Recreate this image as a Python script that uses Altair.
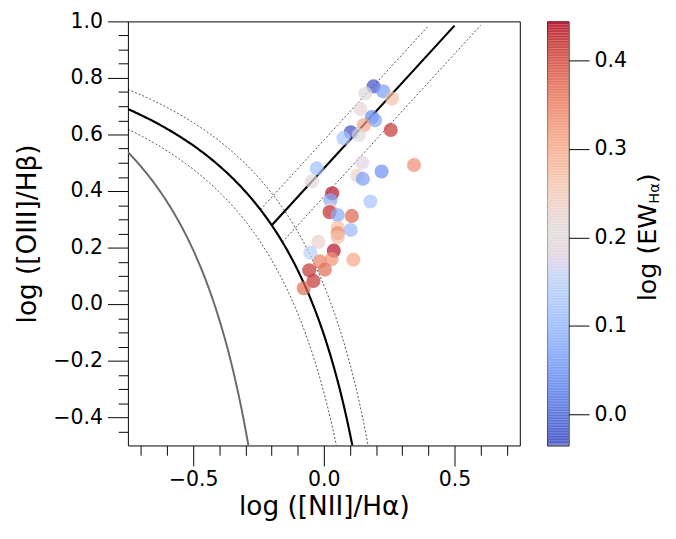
import altair as alt
import numpy as np
import pandas as pd

# ---------------- data ----------------
nii = [0.190, 0.227, 0.159, 0.261, 0.140, 0.184, 0.196, 0.153, 0.256, 0.103,
       0.134, 0.075, -0.027, -0.046, 0.147, 0.221, 0.345, 0.128, 0.149, 0.032,
       0.025, 0.178, 0.024, 0.022, 0.053, 0.107, 0.053, 0.053, 0.053, 0.103,
       -0.021, -0.052, 0.038, -0.015, 0.029, 0.113, -0.056, 0.004, -0.040, -0.077]
oiii = [0.770, 0.753, 0.745, 0.727, 0.690, 0.662, 0.650, 0.633, 0.616, 0.608,
        0.598, 0.587, 0.480, 0.434, 0.501, 0.469, 0.492, 0.455, 0.443, 0.392,
        0.367, 0.363, 0.335, 0.325, 0.315, 0.312, 0.271, 0.251, 0.237, 0.262,
        0.220, 0.182, 0.189, 0.151, 0.159, 0.157, 0.120, 0.122, 0.082, 0.056]
ew = [-0.03, 0.06, 0.20, 0.27, 0.22, 0.03, 0.07, 0.31, 0.42, -0.03,
      0.20, 0.12, 0.11, 0.19, 0.18, 0.04, 0.34, 0.23, 0.06, 0.44,
      0.08, 0.12, 0.23, 0.42, 0.08, 0.38, 0.27, 0.34, 0.27, 0.10,
      0.23, 0.15, 0.44, 0.35, 0.33, 0.31, 0.42, 0.37, 0.42, 0.37]

x_major = [-0.5, 0.0, 0.5]
x_minor = [-0.7, -0.6, -0.4, -0.3, -0.2, -0.1, 0.1, 0.2, 0.3, 0.4, 0.6, 0.7]
y_major = [-0.4, -0.2, 0.0, 0.2, 0.4, 0.6, 0.8, 1.0]
y_minor = [-0.45, -0.35, -0.3, -0.25, -0.15, -0.1, -0.05, 0.05, 0.1, 0.15,
           0.25, 0.3, 0.35, 0.45, 0.5, 0.55, 0.65, 0.7, 0.75, 0.85, 0.9, 0.95]
cb_ticks = [0.0, 0.1, 0.2, 0.3, 0.4]

x_title = "log ([NII]/Hα)"
y_title = "log ([OIII]/Hβ)"
cb_title_parts = ["log (EW", "Hα", ")"]

CMAP = ['#3b4cc0', '#5977e3', '#7b9ff9', '#9ebeff', '#c0d4f5', '#dddcdc',
        '#f2cbb7', '#f7ac8e', '#ee8468', '#d65244', '#b40426']
EW_MIN, EW_MAX = -0.035, 0.444
X_DOM = [-0.75, 0.75]
Y_DOM = [-0.5, 1.0]

# ---------------- demarcation lines (analytic curves) ----------------
def hyper(a, x0, c, xs):
    return a / (xs - x0) + c

def x_bottom(a, x0, c, ymin=Y_DOM[0]):
    return x0 + a / (ymin - c)

def intersect(slope, icpt, a=0.61, x0=0.47, c=1.19):
    k = icpt - c
    r = np.roots([slope, k - slope * x0, -k * x0 - a])
    r = r[np.isreal(r)].real
    return r[r < x0].max()

rows = []
def add_curve(name, style, a, x0, c):
    xs = np.linspace(X_DOM[0], x_bottom(a, x0, c), 160)
    for i, xv in enumerate(xs):
        rows.append((name, style, i, xv, hyper(a, x0, c, xv)))

def add_straight(name, style, slope, icpt, xend):
    xs = np.linspace(intersect(slope, icpt), xend, 2)
    for i, xv in enumerate(xs):
        rows.append((name, style, i, xv, slope * xv + icpt))

add_curve("kauffmann", "gray", 0.61, 0.05, 1.30)
add_curve("kewley", "solid", 0.61, 0.47, 1.19)
add_curve("kewley_hi", "dot", 0.61, 0.52, 1.24)
add_curve("kewley_lo", "dot", 0.61, 0.42, 1.14)
add_straight("cid", "solid", 1.01, 0.48, 0.5)
add_straight("cid_hi", "dot", 1.01, 0.58, 0.4)
add_straight("cid_lo", "dot", 1.01, 0.38, 0.6)
lines = pd.DataFrame(rows, columns=["name", "style", "i", "nii", "oiii"])

pts = pd.DataFrame({"nii": nii, "oiii": oiii, "ew": ew})

# ---------------- scales / axes ----------------
xs_ = alt.Scale(domain=X_DOM, nice=False, zero=False)
ys_ = alt.Scale(domain=Y_DOM, nice=False, zero=False)
stops = [float(v) for v in np.linspace(EW_MIN, EW_MAX, len(CMAP))]
cscale = alt.Scale(domain=stops, range=CMAP)

x_test = "abs(datum.value*2 - round(datum.value*2)) < 0.001"
y_test = "abs(datum.value*5 - round(datum.value*5)) < 0.001"
x_axis = alt.Axis(values=sorted(x_major + x_minor), title=x_title,
                  labelExpr=f"{x_test} ? format(datum.value, '.1f') : ''",
                  tickSize={"condition": {"test": x_test, "value": 21}, "value": 10},
                  labelPadding=3, titlePadding=5, labelFlush=False, labelOverlap=False)
y_axis = alt.Axis(values=sorted(y_major + y_minor), title=y_title,
                  labelExpr=f"{y_test} ? format(datum.value, '.1f') : ''",
                  tickSize={"condition": {"test": y_test, "value": 21}, "value": 10},
                  labelPadding=5, titlePadding=12, labelFlush=False, labelOverlap=False)

X = alt.X("nii:Q", scale=xs_, axis=x_axis)
Y = alt.Y("oiii:Q", scale=ys_, axis=y_axis)

base_l = alt.Chart(lines)
gray = base_l.transform_filter("datum.style == 'gray'").mark_line(
    color="#696969", strokeWidth=2, clip=True).encode(x=X, y=Y, detail="name:N", order="i:Q")
dots = base_l.transform_filter("datum.style == 'dot'").mark_line(
    color="black", strokeWidth=0.7, strokeDash=[2, 2], clip=True).encode(
    x=X, y=Y, detail="name:N", order="i:Q")
solid = base_l.transform_filter("datum.style == 'solid'").mark_line(
    color="black", strokeWidth=2.2, clip=True).encode(x=X, y=Y, detail="name:N", order="i:Q")
points = alt.Chart(pts).mark_circle(size=210, opacity=0.7, clip=True).encode(
    x=X, y=Y, color=alt.Color("ew:Q", scale=cscale, legend=None))

main = alt.layer(gray, dots, solid, points).properties(width=402, height=435)

# ---------------- colorbar ----------------
edges = np.linspace(EW_MIN, EW_MAX, 161)
step = edges[1] - edges[0]
cb = pd.DataFrame({"lo": edges[:-1], "hi": edges[1:] + step * 0.6,
                   "mid": (edges[:-1] + edges[1:]) / 2})
cb["hi"] = cb["hi"].clip(upper=EW_MAX)
cb_y = alt.Y("lo:Q", scale=alt.Scale(domain=[EW_MIN, EW_MAX], nice=False, zero=False),
             axis=alt.Axis(orient="right", values=cb_ticks, format=".1f", tickSize=21,
                           labelPadding=5, title=None, labelFlush=False))
bar = alt.Chart(cb).mark_rect(opacity=0.7, strokeWidth=0).encode(
    x=alt.value(0), x2=alt.value(22), y=cb_y, y2="hi:Q",
    color=alt.Color("mid:Q", scale=cscale, legend=None))

def tlabel(txt, size, xpx, ypx):
    return alt.Chart(pd.DataFrame({"t": [txt]})).mark_text(
        angle=270, align="left", baseline="alphabetic", fontSize=size,
        font="DejaVu Sans", color="black").encode(
        x=alt.value(xpx), y=alt.value(ypx), text="t:N")

t1 = tlabel(cb_title_parts[0], 26, 112, 287)
t2 = tlabel(cb_title_parts[1], 15, 115, 187)
t3 = tlabel(cb_title_parts[2], 26, 112, 166)

colorbar = alt.layer(bar, t1, t2, t3).properties(width=22, height=435)

chart = alt.hconcat(main, colorbar, spacing=26).resolve_scale(
    x="independent", y="independent", color="independent"
).properties(
    padding={"left": 5, "top": -5, "right": 5, "bottom": 5},
    background="white"
).configure_view(
    stroke="black", strokeWidth=1
).configure_axis(
    labelFont="DejaVu Sans", titleFont="DejaVu Sans", labelFontSize=21,
    titleFontSize=27, titleFontWeight="normal", labelColor="black",
    titleColor="black", tickColor="black", tickWidth=1, domain=False, grid=False
)

chart.save("out.html", embed_options={"renderer": "svg", "actions": False})
